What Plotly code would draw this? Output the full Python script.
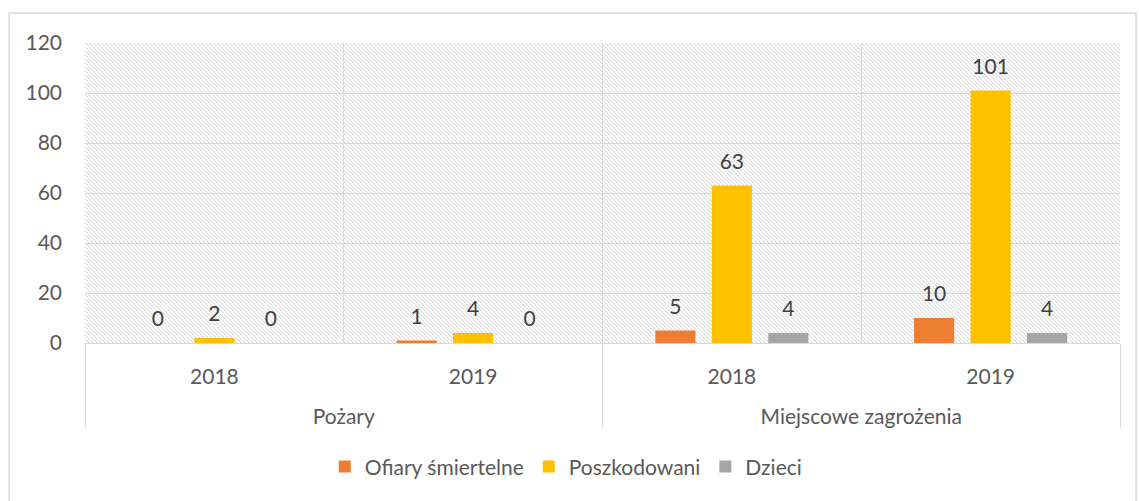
import base64
import plotly.graph_objects as go

# ---- data ----
groups = ["Pożary", "Pożary", "Miejscowe zagrożenia", "Miejscowe zagrożenia"]
years = ["2018", "2019", "2018", "2019"]
series_names = ["Ofiary śmiertelne", "Poszkodowani", "Dzieci"]
ofiary = [0, 1, 5, 10]
poszkodowani = [2, 4, 63, 101]
dzieci = [0, 0, 4, 4]
series_values = [ofiary, poszkodowani, dzieci]
colors = ["#ED7D31", "#FFC000", "#A5A5A5"]
y_ticks = [0, 20, 40, 60, 80, 100, 120]

FONT = "Lato"
FS = 21
GRID = "#d9d9d9"

# outer-level labels pushed one line lower (empty first line)
x = [["<br>" + g for g in groups], years]

fig = go.Figure()
for name, vals, col in zip(series_names, series_values, colors):
    fig.add_trace(go.Bar(
        x=x, y=vals, name=name, marker=dict(color=col, line=dict(width=0)),
        hoverinfo="skip",
    ))
for name, vals in zip(series_names, series_values):
    fig.add_trace(go.Scatter(
        x=x, y=vals, mode="markers+text", orientation="v",
        text=[str(v) for v in vals], textposition="top center",
        textfont=dict(family=FONT, size=FS, color="#404040"),
        marker=dict(size=17, color="rgba(0,0,0,0)"),
        showlegend=False, hoverinfo="skip", cliponaxis=False,
    ))

# hatched background of the plot area (pixel diagonal pattern)
tile = "".join(
    f"<rect x='{i}' y='{i}' width='1' height='1' fill='#dcdcdc'/>"
    f"<rect x='{(i + 1) % 4}' y='{i}' width='1' height='1' fill='#f3f3f3'/>"
    for i in range(4)
)
svg = (
    "<svg xmlns='http://www.w3.org/2000/svg' width='1035' height='300' "
    "preserveAspectRatio='none' viewBox='0 0 1035 300' shape-rendering='crispEdges'>"
    "<defs><pattern id='p' width='4' height='4' patternUnits='userSpaceOnUse'>"
    + tile +
    "</pattern></defs><rect width='1035' height='300' fill='white'/>"
    "<rect width='1035' height='300' fill='url(#p)'/></svg>"
)
src = "data:image/svg+xml;base64," + base64.b64encode(svg.encode()).decode()

fig.update_layout(
    width=1139, height=501,
    margin=dict(l=85, r=19, t=43, b=158),
    paper_bgcolor="white", plot_bgcolor="rgba(0,0,0,0)",
    barmode="group", bargap=0.345, bargroupgap=0.29,
    scattermode="group", scattergap=0.345,
    font=dict(family=FONT, size=FS, color="#595959"),
    images=[dict(source=src, xref="paper", yref="paper", x=0, y=1,
                 sizex=1, sizey=1, sizing="stretch", layer="below")],
    legend=dict(orientation="h", x=0.465, xanchor="center", y=-0.413,
                yanchor="middle", font=dict(family=FONT, size=FS, color="#595959"),
                itemclick=False),
    shapes=[dict(type="rect", xref="paper", yref="paper",
                 x0=-0.0734, x1=1.0155, y0=-0.6, y1=1.1,
                 line=dict(color=GRID, width=1.5), layer="below")],
)
fig.update_xaxes(
    type="multicategory", tickson="boundaries", showgrid=True, gridcolor=GRID,
    gridwidth=1.3, ticks="", showline=True, linecolor=GRID, linewidth=1.3,
    showdividers=True, dividercolor=GRID, dividerwidth=1.3,
    ticklabelstandoff=15,
    tickfont=dict(family=FONT, size=FS, color="#595959"),
)
fig.update_yaxes(
    range=[0, 120], tickvals=y_ticks, showgrid=True, gridcolor=GRID, gridwidth=1.3,
    zeroline=False, ticks="", ticklabelstandoff=22,
    tickfont=dict(family=FONT, size=FS, color="#595959"),
)

fig.write_html("out.html", config={"displayModeBar": False},
               post_script="document.body.style.margin='0';")
